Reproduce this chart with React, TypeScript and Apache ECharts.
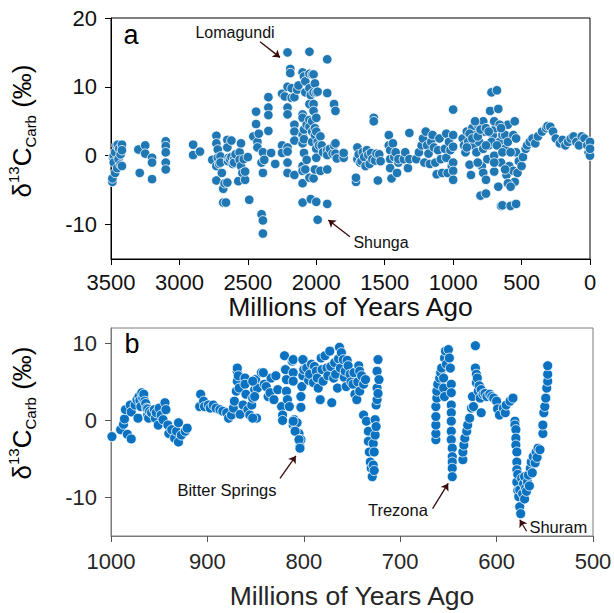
import React, { useEffect, useRef } from "react";
import * as echarts from "echarts";

// ---------- Panel a: whole record (age Ma, δ13C ‰) ----------
const archeanA: [number, number][] = [
  [3490,-3.8],[3490,-3.3],[3485,-0.3],[3480,0.0],[3480,-1.0],[3470,0.5],[3470,-2.5],[3460,1.5],[3455,-1.8],[3450,1.6],[3445,-0.5],[3440,1.0],[3430,0.2],[3430,-1.3],[3420,1.6],[3420,-1.5],[3420,0.8],
  [3300,0.9],[3290,-2.5],[3250,1.5],[3250,0.3],[3200,-0.3],[3200,-1.0],[3200,-3.4],
  [3100,2.1],[3100,1.4],[3100,0.5],[3100,-1.0],[3100,-2.0],
  [2900,1.6],[2900,0.1],[2850,0.6],
  [2760,-0.6],[2730,2.9],[2730,1.8],[2730,-1.5],[2730,-3.6],[2720,0.9],[2720,-0.3],[2710,-1.2],[2700,-0.1],[2700,-1.0],[2690,-2.5],[2680,-4.8],[2680,-6.8],[2660,-6.8],[2670,-4.0],[2650,-3.9],[2650,2.3],[2650,1.2],[2645,-0.8],[2640,-0.3],[2630,-0.5],[2620,-0.2],[2620,2.2],[2610,-1.2],[2600,-0.5],[2600,-1.0],[2590,0.2],
  [2570,-3.7],[2560,0.5],[2560,-0.6],[2550,1.8],[2550,-1.5],[2540,-2.5],[2530,-0.5],[2520,-3.5],[2520,-2.3],[2500,-0.2],[2490,-6.4],
];
const paleoA: [number, number][] = [
  [2460,2.8],[2440,6.4],[2440,4.6],[2430,2.0],[2430,1.2],[2420,3.2],[2400,-1.0],[2400,-8.5],[2390,-9.4],[2390,-11.3],[2390,-2.5],[2390,0.5],[2380,-0.6],
  [2350,8.5],[2350,7.0],[2350,5.9],[2350,3.6],[2330,0.4],[2300,-1.2],
  [2250,9.0],[2250,1.5],[2250,0.4],[2230,8.6],
  [2210,15.0],[2210,10.0],[2210,7.0],[2210,6.0],[2210,1.2],[2210,0.6],[2210,-1.0],[2210,-2.5],
  [2190,12.6],[2190,12.0],[2180,8.4],[2180,9.8],
  [2160,8.5],[2160,4.5],[2160,3.5],[2160,2.2],[2160,-2.8],[2140,9.6],[2130,10.2],
  [2100,12.1],[2100,6.0],[2100,5.5],[2100,3.0],[2100,1.8],[2100,-1.5],[2100,-2.2],[2100,-4.0],[2100,-6.8],
  [2090,11.5],[2090,3.8],[2090,2.4],[2090,0.4],[2080,10.8],[2080,9.2],[2080,-2.0],[2070,-0.6],[2070,4.5],
  [2050,15.1],[2050,11.9],[2050,9.8],[2050,7.5],[2050,5.2],[2050,4.2],[2050,-3.2],[2040,-6.3],[2040,8.8],[2030,3.5],[2030,2.0],[2030,11.8],[2030,5.0],[2020,9.2],[2020,7.5],[2020,6.5],[2020,11.8],[2020,-3.3],[2010,3.0],[2010,10.5],[2010,4.0],[2010,-2.0],[2000,1.0],[2000,-0.3],[2000,9.2],[2000,5.5],[2000,3.5],[2000,-6.7],[1990,-9.3],[1990,9.3],[1990,2.0],[1980,1.5],
  [1970,2.8],[1970,-2.2],[1960,1.5],[1950,0.5],
  [1920,14.0],[1920,9.1],[1920,0.8],[1920,0.1],[1920,-2.0],[1920,-7.0],[1900,1.0],[1880,0.3],
  [1870,7.5],[1860,6.5],[1870,1.5],[1860,1.8],[1860,0.3],[1850,-0.4],[1800,-0.3],[1800,0.4],
  [1710,-3.8],[1710,-3.2],[1700,1.2],[1700,-0.5],[1690,0.2],[1680,-1.0],[1670,-0.8],[1660,0.5],[1650,-0.2],[1640,-1.5],[1630,0.8],[1620,0.1],[1610,-1.2],[1600,0.4],
];
const mesoA: [number, number][] = [
  [1590,-0.5],[1580,5.5],[1580,5.0],[1570,-0.7],[1560,0.3],[1550,-3.6],[1540,0.2],[1530,-0.8],
  [1470,3.0],[1470,1.5],[1460,0.8],[1460,-0.5],[1460,-1.8],[1450,-3.3],[1440,1.8],[1430,-0.2],[1420,0.5],[1410,-2.5],[1400,-1.0],[1400,-0.5],
  [1360,-0.5],[1350,0.5],[1330,-1.8],[1320,3.3],[1320,-0.5],
  [1270,-0.5],[1250,0.5],[1230,1.5],[1220,2.5],[1210,-1.0],[1200,3.5],[1190,1.5],[1180,0.3],[1170,-1.2],[1160,2.0],[1150,3.0],[1140,1.2],[1130,-1.0],[1120,-2.7],[1110,0.8],[1100,2.5],[1090,-0.5],[1080,-2.5],[1060,1.0],[1050,3.2],[1050,-0.3],[1040,-2.5],[1030,2.0],[1020,0.8],[1010,-1.5],[1000,6.7],[1000,3.0],[1000,1.3],[1000,-1.0],[1000,-2.2],[1000,-3.5],
];
const neoA: [number, number][] = [
  [930,2.5],[920,1.5],[910,0.5],[900,3.5],[890,2.0],[880,-1.3],[870,-2.8],[860,4.0],[850,1.5],[840,3.0],[830,0.5],[820,4.5],[810,2.0],[800,-5.8],[790,-1.5],[780,-2.5],[780,5.0],[770,3.5],[760,-3.5],[760,-5.5],[750,-0.5],[740,1.5],[730,6.5],[720,9.2],[710,3.0],[700,0.0],[700,-2.3],[690,4.0],[680,9.5],[670,-4.5],[670,6.8],[660,2.0],[650,-1.0],[650,-7.3],[640,-7.2],[640,3.0],[620,1.0],[610,-2.8],[600,4.5],[590,-1.5],[580,-7.3],[570,2.7],[560,-2.2],[550,-3.8],[550,5.0],[540,0.5],[540,-7.0],[530,-2.5],[520,-0.8],
  [900,1.2],[880,3.2],[860,2.5],[840,5.0],[820,2.8],[800,3.8],[780,1.0],[760,4.0],[740,3.5],[720,2.0],[700,5.0],[680,1.5],[660,4.5],[640,0.5],[620,3.0],[600,2.0],[580,0.5],[560,3.0],[540,2.5],[820,-1.0],[760,1.5],[700,-1.0],[600,-4.0],[580,-4.5],[650,4.0],[620,-2.0],
];
const phanA: [number, number][] = [
  [500,-1.5],[490,-0.2],[470,1.0],[460,1.5],[440,2.0],[420,2.5],[400,1.8],[380,2.8],[350,3.5],[320,4.0],[310,4.3],[290,4.2],[270,3.5],[250,2.5],[220,1.8],[200,2.3],[180,1.5],[160,2.0],[140,2.5],[120,2.8],[100,2.0],[80,1.5],[60,2.8],[40,2.5],[20,1.5],[10,0.5],[0,2.0],[0,0.0],[0,1.0],
];

// ---------- Panel b: Neoproterozoic detail ----------
const tonianEarlyB: [number, number][] = [
  [999,-2.1],[990,-1.2],[987,-0.5],[986,0.2],[985,1.4],[983,-1.8],[979,-2.4],[980,2.0],[979,1.1],[975,2.0],[973,2.7],[972,0.3],[971,3.1],[970,2.6],[969,1.8],[968,3.6],[967,2.9],[966,3.4],[965,2.5],[964,2.2],[963,1.6],[962,0.7],[962,1.5],[961,0.3],[960,1.2],[958,1.0],[955,1.4],[954,0.3],[953,1.0],[951,-0.6],[950,1.6],[948,0.7],[946,0.1],[944,2.3],[943,1.4],[941,-0.6],[940,-1.7],[937,-1.2],[934,-2.3],[932,-1.4],[930,-0.3],[930,-2.8],[927,-1.9],[923,-1.4],[921,-1.0],
];
const tonianMidB: [number, number][] = [
  [907,3.4],[908,1.8],[904,2.5],[903,1.8],[899,2.0],[897,1.6],[894,2.0],[891,1.6],[887,1.4],[884,1.2],[880,1.0],[878,0.3],[875,0.7],[873,1.6],[872,2.5],[870,3.8],[869,5.1],[869,6.4],[869,6.8],[868,5.8],[867,4.2],[866,0.8],[863,2.0],[861,5.5],[861,4.7],[860,3.4],[858,1.4],[856,0.7],[854,2.0],[853,2.9],[851,4.0],[850,5.3],[849,0.3],[848,4.2],[844,6.2],[841,4.7],[837,3.1],[834,5.5],[853,5.1],[851,3.1],[853,0.3],[842,6.2],[839,4.4],[835,3.6],[831,2.7],[829,5.8],[827,4.0],[823,1.8],[822,0.7],[822,0.0],[820,8.4],[819,6.6],[818,5.3],[818,3.8],[817,2.7],[815,1.8],[812,7.7],[811,6.2],[811,5.1],[810,0.1],[811,-0.6],[809,-1.2],[807,-0.3],[805,-1.7],[804,-2.5],[804,-3.4],[803,-2.5],[803,1.7],[803,3.1],[802,4.4],[801,5.8],[800,6.6],[800,7.8],[811,7.9],[811,-0.1],[809,-1.4],[805,-2.5],[804,-3.6],[801,7.9],
];
const tonianLateB: [number, number][] = [
  [797,6.8],[795,5.2],[794,6.0],[792,7.3],[790,4.9],[789,7.0],[787,6.4],[786,5.5],[785,4.2],[783,2.7],[782,8.1],[781,6.6],[780,5.1],[778,8.4],[776,6.8],[775,5.8],[773,9.0],[772,7.0],[771,2.3],[769,5.5],[768,7.5],[767,6.0],[765,4.2],[764,8.0],[763,9.5],[762,6.8],[761,8.8],[759,7.9],[758,5.6],[757,6.4],[756,4.4],[755,7.8],[754,7.1],[752,6.0],[751,5.0],[749,4.7],[748,6.2],[747,3.4],[745,2.7],[744,5.0],[743,7.1],[742,6.4],[742,3.8],[740,5.8],[738,4.7],[738,0.7],[736,5.3],[735,-0.1],[733,-1.4],[733,-2.7],[732,-4.1],[731,-5.4],[730,-6.2],[729,-7.3],[728,-5.8],[728,-3.0],[727,-4.1],[727,-6.5],[726,-1.9],[726,0.1],[725,-0.8],[725,2.0],[724,4.2],[724,6.4],[724,2.7],[723,7.9],[723,3.5],[722,5.3],
];
const cryogenianB: [number, number][] = [
  [663,-2.5],[663,-1.7],[663,-0.6],[663,0.5],[663,1.8],[662,2.9],[662,3.8],[661,4.7],[659,5.5],[658,6.2],[657,6.8],[655,5.5],[655,4.2],[654,3.1],[654,8.1],[653,9.0],[652,7.3],[650,9.2],[649,8.1],[648,6.8],[647,4.7],[647,3.6],[647,2.0],[647,1.0],[647,-0.1],[647,-1.4],[647,-2.5],[646,-3.6],[646,-4.7],[646,-5.4],[646,-6.2],[646,-7.3],
  [635,-5.1],[635,-4.1],[634,-3.2],[633,-2.3],[631,-1.4],[630,-0.6],[628,0.3],[626,1.6],[625,3.1],[624,1.8],
];
const ediacaranB: [number, number][] = [
  [622,9.7],[622,6.8],[621,6.0],[621,4.9],[620,5.5],[619,3.8],[618,4.5],[617,2.9],[616,4.0],[616,1.0],[614,3.4],[612,3.5],[610,3.1],[607,3.4],[605,3.1],[603,2.9],[600,2.5],[599,1.5],[597,0.7],[593,1.6],[591,1.0],[590,2.0],[586,2.5],[583,2.9],
  [581,-0.1],[581,-0.6],[580,-1.2],[580,-2.3],[580,-3.2],[579,-4.1],[579,-5.4],[579,-6.4],[579,-8.0],[578,-7.0],[578,-9.1],[577,-9.9],[576,-9.0],[576,-11.2],[575,-12.1],[574,-7.5],[573,-9.5],[572,-8.2],[571,-7.3],[571,-10.2],[570,-8.8],[569,-9.2],[568,-8.0],[567,-7.1],[566,-8.5],[565,-6.2],[564,-5.4],[563,-6.8],[562,-4.7],[560,-5.5],[559,-4.1],[558,-4.8],[557,-3.6],[555,-3.8],
  [552,-1.7],[552,-0.6],[551,1.0],[550,1.8],[549,2.9],[548,4.2],[547,5.1],[547,6.0],[547,7.1],
];

// tick values
const yTicksA = [-10, 0, 10, 20];
const yTicksB = [-10, 0, 10];

// annotations: label, text position, arrow start, arrow end (data coords)
const annotationsA = [
  { name: "Lomagundi", text: [2594, 17.95], from: [2411, 16.55], to: [2265, 14.28] },
  { name: "Shunga", text: [1527, -12.6], from: [1754, -11.76], to: [1912, -9.33] },
];
const annotationsB = [
  { name: "Bitter Springs", text: [879.7, -9.06], from: [824.7, -7.53], to: [808.2, -4.61] },
  { name: "Trezona", text: [702.4, -11.67], from: [666.4, -11.45], to: [650.2, -8.18] },
  { name: "Shuram", text: [536, -13.83], from: [568.9, -14.38], to: [575.9, -12.89] },
];

const FONT = "'Liberation Sans', Arial, Helvetica, sans-serif";

function markers(list: typeof annotationsA, fs: number) {
  return {
    markLine: {
      silent: true,
      symbol: ["none", "arrow"],
      symbolSize: 7,
      lineStyle: { color: "#3a0a0a", width: 1.3, type: "solid" },
      label: { show: false },
      emphasis: { disabled: true },
      data: list.map((a) => [{ coord: a.from }, { coord: a.to }]),
    },
    markPoint: {
      silent: true,
      symbol: "circle",
      symbolSize: 0,
      label: { show: true, formatter: "{b}", fontSize: fs, color: "#111", fontFamily: FONT, position: "inside" },
      data: list.map((a) => ({ name: a.name, coord: a.text })),
    },
  };
}

const titleRich = {
  d: { fontSize: 26, fontFamily: FONT, lineHeight: 32, color: "#000" },
  s: { fontSize: 15, fontFamily: FONT, verticalAlign: "top", lineHeight: 32, color: "#000" },
  b: { fontSize: 15, fontFamily: FONT, verticalAlign: "bottom", lineHeight: 32, color: "#000", padding: [6, 0, 0, 0] },
};

const plain = (v: number) => String(v);

export default function App() {
  const ref = useRef<HTMLDivElement>(null);
  useEffect(() => {
    if (!ref.current) return;
    const chart = echarts.init(ref.current, null, { renderer: "svg" });
    const symA = { symbolSize: 9.5, itemStyle: { color: "#1f77b4", borderColor: "#ffffff", borderWidth: 0.8, opacity: 1 } };
    const symB = { symbolSize: 10, itemStyle: { color: "#0a72c0", borderColor: "#ffffff", borderWidth: 0.8, opacity: 1 } };
    const option: any = {
      animation: false,
      backgroundColor: "#ffffff",
      grid: [
        { left: 111, top: 18, width: 479, height: 241, show: true, borderColor: "#000", borderWidth: 1, backgroundColor: "transparent", outerBoundsMode: "none" },
        { left: 111, top: 328, width: 482, height: 208, show: true, borderColor: "#7a7a7a", borderWidth: 1, backgroundColor: "transparent", outerBoundsMode: "none" },
      ],
      xAxis: [
        {
          gridIndex: 0, type: "value", min: 0, max: 3500, interval: 500, inverse: true,
          name: "Millions of Years Ago", nameLocation: "middle", nameGap: 27,
          nameTextStyle: { fontSize: 26.5, fontFamily: FONT, color: "#111" },
          axisLine: { show: true, onZero: false, lineStyle: { color: "#000", width: 1 } },
          axisTick: { show: true, inside: false, length: 6, lineStyle: { color: "#000" } },
          axisLabel: { fontSize: 22, fontFamily: FONT, color: "#111", margin: 12, formatter: plain },
          splitLine: { show: false },
        },
        {
          gridIndex: 1, type: "value", min: 500, max: 1000, interval: 100, inverse: true,
          name: "Millions of Years Ago", nameLocation: "middle", nameGap: 46,
          nameTextStyle: { fontSize: 26.5, fontFamily: FONT, color: "#262626" },
          axisLine: { show: true, onZero: false, lineStyle: { color: "#7a7a7a", width: 1 } },
          axisTick: { show: true, inside: false, length: 6, lineStyle: { color: "#555" } },
          axisLabel: { fontSize: 22, fontFamily: FONT, color: "#262626", margin: 14, formatter: plain },
          splitLine: { show: false },
        },
      ],
      yAxis: [
        {
          gridIndex: 0, type: "value", min: -15, max: 20,
          axisLine: { show: true, onZero: false, lineStyle: { color: "#000", width: 1 } },
          axisTick: { show: true, inside: false, length: 6, customValues: yTicksA, lineStyle: { color: "#000" } },
          axisLabel: { fontSize: 22, fontFamily: FONT, color: "#111", margin: 14, customValues: yTicksA, formatter: plain },
          splitLine: { show: false },
        },
        {
          gridIndex: 1, type: "value", min: -15, max: 12,
          axisLine: { show: true, onZero: false, lineStyle: { color: "#7a7a7a", width: 1 } },
          axisTick: { show: true, inside: false, length: 6, customValues: yTicksB, lineStyle: { color: "#555" } },
          axisLabel: { fontSize: 22, fontFamily: FONT, color: "#262626", margin: 14, customValues: yTicksB, formatter: plain },
          splitLine: { show: false },
        },
      ],
      series: [
        { type: "scatter", xAxisIndex: 0, yAxisIndex: 0, data: archeanA, ...symA },
        { type: "scatter", xAxisIndex: 0, yAxisIndex: 0, data: paleoA, ...symA },
        { type: "scatter", xAxisIndex: 0, yAxisIndex: 0, data: mesoA, ...symA },
        { type: "scatter", xAxisIndex: 0, yAxisIndex: 0, data: neoA, ...symA },
        { type: "scatter", xAxisIndex: 0, yAxisIndex: 0, data: phanA, ...symA, ...markers(annotationsA, 16) },
        { type: "scatter", xAxisIndex: 1, yAxisIndex: 1, data: tonianEarlyB, ...symB },
        { type: "scatter", xAxisIndex: 1, yAxisIndex: 1, data: tonianMidB, ...symB },
        { type: "scatter", xAxisIndex: 1, yAxisIndex: 1, data: tonianLateB, ...symB },
        { type: "scatter", xAxisIndex: 1, yAxisIndex: 1, data: cryogenianB, ...symB },
        { type: "scatter", xAxisIndex: 1, yAxisIndex: 1, data: ediacaranB, ...symB, ...markers(annotationsB, 16.5) },
      ],
      graphic: [
        { type: "text", x: 131, y: 35, style: { text: "a", fontSize: 27, fontFamily: FONT, fill: "#000", align: "center", verticalAlign: "middle" } },
        { type: "text", x: 132, y: 344, style: { text: "b", fontSize: 27, fontFamily: FONT, fill: "#000", align: "center", verticalAlign: "middle" } },
        { type: "text", x: 22, y: 131, rotation: Math.PI / 2, style: { text: "{d|δ}{s|13}{d|C}{b|Carb}{d| (‰)}", rich: titleRich, align: "center", verticalAlign: "middle" } },
        { type: "text", x: 22, y: 413, rotation: Math.PI / 2, style: { text: "{d|δ}{s|13}{d|C}{b|Carb}{d| (‰)}", rich: titleRich, align: "center", verticalAlign: "middle" } },
      ],
    };
    chart.setOption(option);
    return () => chart.dispose();
  }, []);
  return <div ref={ref} style={{ position: "fixed", left: 0, top: 0, width: 614, height: 613, background: "#fff" }} />;
}
